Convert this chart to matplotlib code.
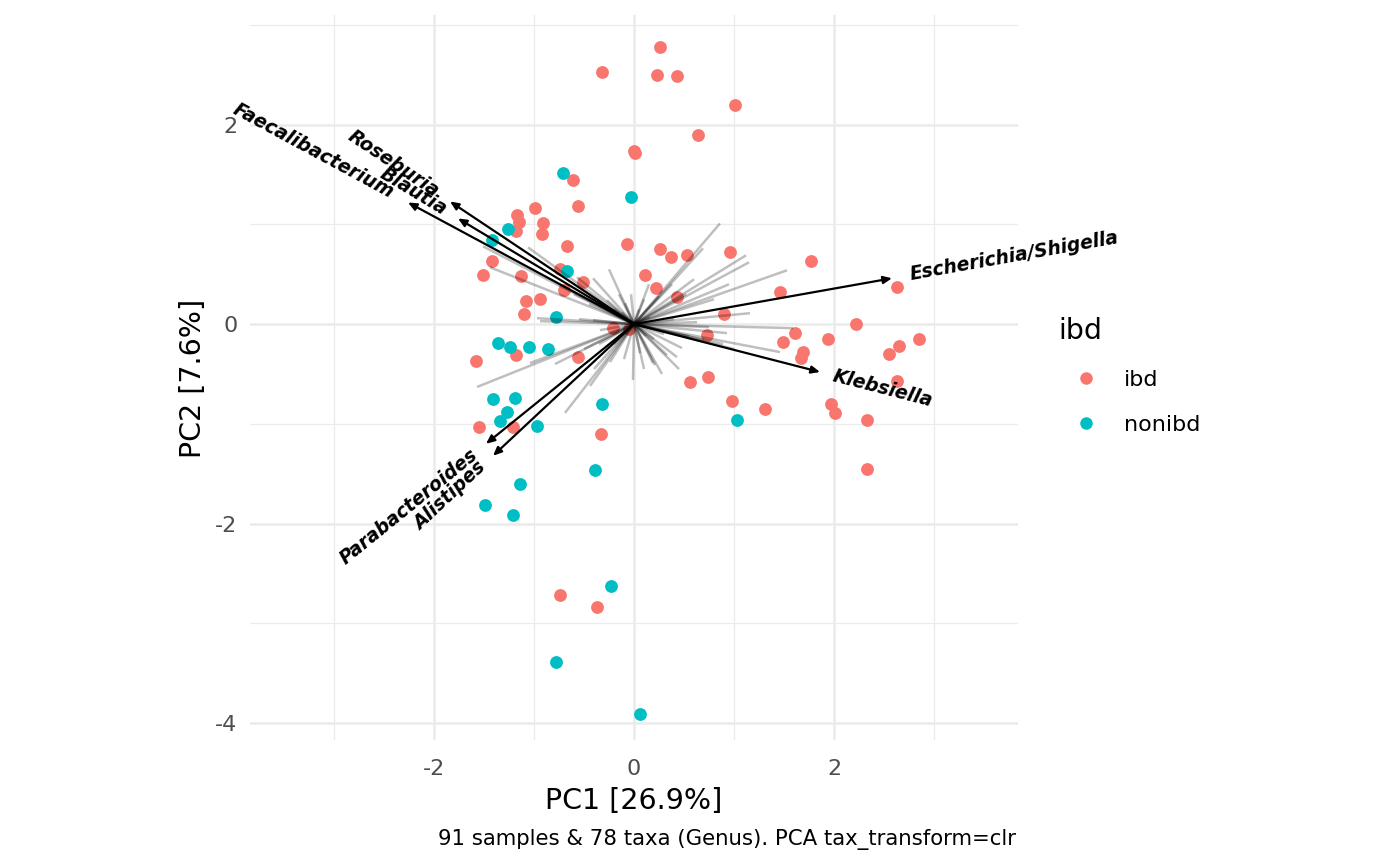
import math
import matplotlib
matplotlib.use("Agg")
import matplotlib.pyplot as plt
from matplotlib.patches import FancyArrowPatch
from matplotlib.lines import Line2D

# ---- sample scores (PC1, PC2) ----
ibd_x = [0.26, -0.32, 0.23, 0.43, 1.01, 0.64, 0.00, 0.01, -0.61, -0.56,
         -0.99, -1.17, -1.15, -1.18, -0.91, -0.92, -0.67, -0.07, 0.26, 0.37,
         0.53, 0.96, -1.42, -1.51, -1.13, -0.74, -0.51, -0.70, 0.11, 0.22,
         0.43, 1.46, -1.08, -0.94, -1.10, 1.77, 2.63, 0.90, 0.73, 1.61,
         1.49, 1.94, 2.22, 1.69, 1.67, 2.85, 2.65, 2.55, 2.63, 0.56,
         0.74, 0.98, 1.31, 1.97, 2.01, 2.33, 2.33, -0.21, -0.05, -1.18,
         -1.58, -0.56, -1.55, -1.21, -0.33, -0.74, -0.37]
ibd_y = [2.78, 2.53, 2.50, 2.49, 2.20, 1.90, 1.74, 1.72, 1.45, 1.18,
         1.16, 1.09, 1.02, 0.93, 1.01, 0.90, 0.78, 0.80, 0.75, 0.67,
         0.69, 0.72, 0.63, 0.49, 0.48, 0.55, 0.42, 0.34, 0.49, 0.36,
         0.27, 0.32, 0.23, 0.25, 0.10, 0.63, 0.37, 0.10, -0.11, -0.09,
         -0.18, -0.15, 0.00, -0.28, -0.34, -0.15, -0.22, -0.30, -0.57, -0.58,
         -0.53, -0.77, -0.85, -0.80, -0.89, -0.96, -1.45, -0.04, -0.05, -0.31,
         -0.37, -0.33, -1.03, -1.03, -1.10, -2.72, -2.84]
nonibd_x = [-0.71, -0.03, -1.26, -1.42, -0.67, 1.03, -0.78, -1.36, -1.24, -1.05,
            -0.86, -1.41, -1.19, -1.27, -1.34, -0.97, -0.32, -0.39, -1.14, -1.49,
            -1.21, -0.23, -0.78, 0.06]
nonibd_y = [1.52, 1.27, 0.95, 0.84, 0.53, -0.96, 0.07, -0.19, -0.23, -0.23,
            -0.25, -0.75, -0.74, -0.88, -0.97, -1.02, -0.80, -1.46, -1.60, -1.81,
            -1.91, -2.63, -3.39, -3.91]

# ---- labelled taxa loadings ----
taxa_names = ["Faecalibacterium", "Roseburia", "Blautia", "Escherichia/Shigella",
              "Klebsiella", "Parabacteroides", "Alistipes"]
taxa_x = [-2.26, -1.84, -1.76, 2.58, 1.86, -1.48, -1.41]
taxa_y = [1.22, 1.23, 1.06, 0.46, -0.48, -1.20, -1.32]

# ---- other taxa loadings (unlabelled) ----
other_x = [0.86, 0.69, 1.12, 1.15, 1.53, 1.16, 1.59, 0.93, 1.46, 0.89,
           0.48, 0.43, 0.21, -0.01, -0.09, -1.06, -1.51, -1.44, -0.41, -0.97,
           -0.94, -0.41, -0.34, -1.57, -1.04, -0.79, -0.44, -0.69, 0.19, 0.33,
           0.06, -0.24, -0.17, 0.16, 0.63, -0.57, -0.27, 0.75, 0.55, 0.70,
           0.40, 0.30, 0.52, 0.60, 0.38, 0.25, 0.10, -0.03, -0.15, -0.20,
           -0.45, -0.60, -0.75, -0.35, -0.50, -0.20, -0.10, 0.10, 0.28, 0.20,
           0.45, 0.15, -0.40, -0.55, 0.95, 0.80, 1.00, -0.12, 0.12, -0.25, 0.05]
other_y = [1.01, 0.76, 0.69, 0.62, 0.54, 0.11, -0.04, -0.09, -0.28, -0.20,
           -0.24, -0.33, -0.41, -0.56, 0.21, 0.77, 0.78, 0.57, 0.46, 0.06,
           0.03, 0.04, -0.06, -0.63, -0.39, -0.40, -0.62, -0.89, -0.39, -0.31,
           -0.29, -0.38, 0.11, 0.07, 0.02, 0.47, 0.24, -0.03, -0.12, -0.16,
           0.05, -0.10, 0.30, 0.45, 0.40, 0.28, 0.25, 0.30, 0.30, 0.15,
           0.20, 0.30, 0.40, -0.20, -0.25, -0.20, -0.35, -0.45, -0.50, -0.15,
           -0.45, 0.40, -0.45, 0.05, 0.40, 0.25, -0.25, 0.12, -0.12, 0.55, 0.15]

x_label = "PC1 [26.9%]"
y_label = "PC2 [7.6%]"
caption = "91 samples & 78 taxa (Genus). PCA tax_transform=clr"
legend_title = "ibd"
groups = ["ibd", "nonibd"]
colors = {"ibd": "#F8766D", "nonibd": "#00BFC4"}
x_ticks = [-2, 0, 2]
y_ticks = [-4, -2, 0, 2]

plt.rcParams['font.family'] = ['DejaVu Sans']

W, H = 1400, 866
fig = plt.figure(figsize=(W / 100, H / 100), dpi=100)
ax = fig.add_axes([250 / W, 1 - 740 / H, 768 / W, 725 / H])
ax.set_xlim(-3.84, 3.84)
ax.set_ylim(-4.17, 3.10)

grid_c = "#EBEBEB"
for v in [-3, -1, 1, 3]:
    ax.axvline(v, color=grid_c, lw=0.9, zorder=0)
    ax.axhline(v, color=grid_c, lw=0.9, zorder=0)
for v in x_ticks:
    ax.axvline(v, color=grid_c, lw=1.8, zorder=0)
for v in y_ticks:
    ax.axhline(v, color=grid_c, lw=1.8, zorder=0)

for sp in ax.spines.values():
    sp.set_visible(False)
ax.set_xticks(x_ticks)
ax.set_yticks(y_ticks)
ax.set_xticklabels([str(t) for t in x_ticks])
ax.set_yticklabels([str(t) for t in y_ticks])
ax.tick_params(length=0, labelsize=16, labelcolor="#4D4D4D")
ax.tick_params(axis="x", pad=14)
ax.tick_params(axis="y", pad=9)

# points
ax.scatter(ibd_x, ibd_y, s=85, color=colors["ibd"], linewidths=0, zorder=2)
ax.scatter(nonibd_x, nonibd_y, s=85, color=colors["nonibd"], linewidths=0, zorder=2)

# unlabelled loadings
for lx, ly in zip(other_x, other_y):
    ax.plot([0, lx], [0, ly], color="black", alpha=0.25, lw=1.8,
            solid_capstyle="butt", zorder=3)

# labelled loading arrows
for name, lx, ly in zip(taxa_names, taxa_x, taxa_y):
    arr = FancyArrowPatch((0, 0), (lx, ly), arrowstyle="-|>,head_length=5,head_width=2.2",
                          mutation_scale=1, color="black", lw=1.6,
                          shrinkA=0, shrinkB=0, zorder=4)
    ax.add_patch(arr)
    ang = math.degrees(math.atan(ly / lx))
    f = 1.07
    ax.text(lx * f, ly * f, name, rotation=ang, rotation_mode="anchor",
            ha="right" if lx < 0 else "left", va="center",
            fontsize=13.5, fontweight="bold", fontstyle="italic",
            color="black", zorder=5)

fig.text(634 / W, 1 - 801 / H, x_label, ha="center", va="center", fontsize=20.5)
fig.text(193 / W, 1 - 378 / H, y_label, ha="center", va="center", fontsize=20.5,
         rotation=90)

handles = [Line2D([], [], marker="o", linestyle="", markersize=9,
                  markerfacecolor=colors[g], markeredgewidth=0) for g in groups]
leg = fig.legend(handles, groups, title=legend_title, loc="upper left",
                 bbox_to_anchor=(1058 / W, 1 - 317 / H), frameon=False,
                 fontsize=16, title_fontsize=20.5, handlelength=2.5,
                 handletextpad=0.45, labelspacing=1.13, borderaxespad=0,
                 borderpad=0)
leg._legend_box.align = "left"

fig.text(1016 / W, 1 - 840 / H, caption, ha="right", va="center", fontsize=15.3)

fig.savefig("out.png", dpi=100)
